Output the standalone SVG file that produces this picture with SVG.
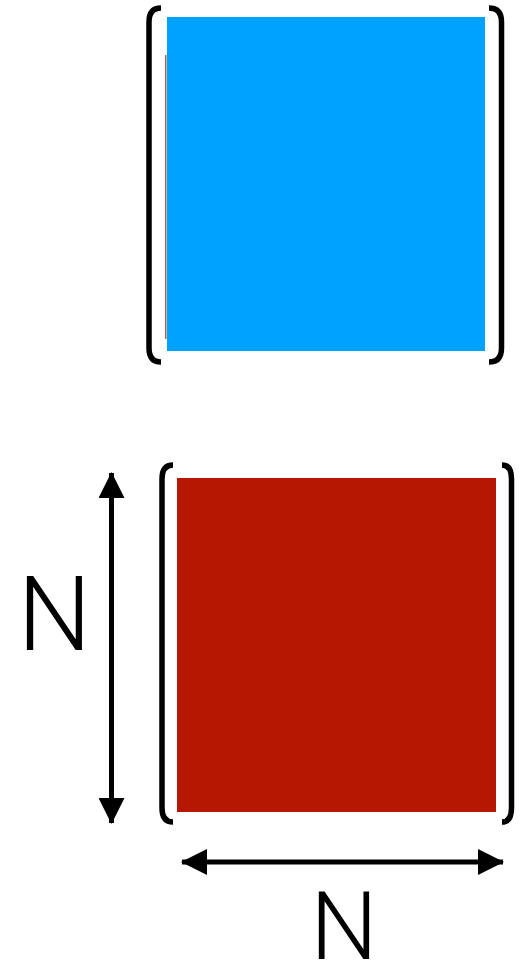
<svg xmlns="http://www.w3.org/2000/svg" width="523" height="965" viewBox="0 0 523 965">
  <style>
    .bracket { fill: none; stroke: #000; stroke-width: 5.5; stroke-linecap: butt; }
    .dim { stroke: #000; stroke-width: 5; fill: none; }
    .label { font-family: Roboto, "Liberation Sans", sans-serif; font-weight: 300; fill: #000; text-anchor: middle; }
  </style>
  <defs>
    <marker id="head" viewBox="0 0 26 26" refX="25" refY="13" markerWidth="26" markerHeight="26" markerUnits="userSpaceOnUse" orient="auto-start-reverse">
      <path d="M0,0 L26,13 L0,26 Z" fill="#000"/>
    </marker>
  </defs>
  <rect width="523" height="965" fill="#fff"/>

  <!-- upper matrix (blue) -->
  <g id="matrix-top">
    <rect x="165" y="55" width="1.5" height="284" fill="#b0603a"/>
    <rect x="167" y="17" width="318" height="334" fill="#00a2ff"/>
    <path class="bracket" d="M161,8 Q149,8 149,22 L149,348 Q149,362 161,362"/>
    <path class="bracket" d="M489,8 Q501.5,8 501.5,22 L501.5,348 Q501.5,362 489,362"/>
  </g>

  <!-- lower matrix (red) -->
  <g id="matrix-bottom">
    <rect x="177" y="478" width="319" height="334" fill="#b51700"/>
    <path class="bracket" d="M173,465 Q162,465 162,479 L162,808 Q162,822 173,822"/>
    <path class="bracket" d="M502,465 Q511.5,465 511.5,479 L511.5,808 Q511.5,822 502,822"/>
  </g>

  <!-- dimension arrows -->
  <g id="connectors">
    <line class="dim" x1="111.5" y1="473" x2="111.5" y2="823" marker-start="url(#head)" marker-end="url(#head)"/>
    <line class="dim" x1="182" y1="862" x2="503" y2="862" marker-start="url(#head)" marker-end="url(#head)"/>
  </g>

  <g id="label-rows">
    <text class="label" x="54.5" y="650" font-size="104">N</text>
  </g>
  <g id="label-cols">
    <text class="label" x="344" y="959" font-size="95">N</text>
  </g>
</svg>
